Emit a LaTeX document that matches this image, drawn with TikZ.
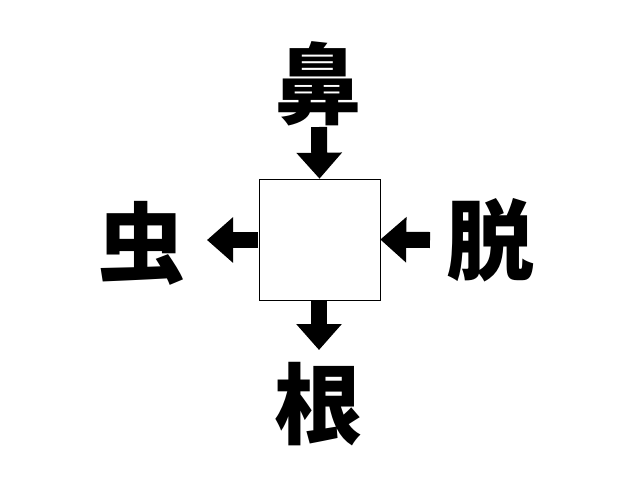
\documentclass[tikz,border=0pt]{standalone}
\usepackage{fontspec}
\newfontfamily\cjk{Noto Sans CJK JP}
\usetikzlibrary{arrows.meta}
\tikzset{
  kanji/.style={font=\cjk\bfseries\fontsize{88}{88}\selectfont, inner sep=0pt},
  blockarrow/.style={line width=16pt, -{Triangle[width=44pt,length=26pt]}}
}
\begin{document}
\begin{tikzpicture}[x=1pt,y=-1pt]
  \useasboundingbox (0,0) rectangle (640,480);
  \node[draw, line width=0.6pt, minimum size=121pt, inner sep=0pt] (box) at (319.5,239.5) {};
  \node[kanji] (top) at (318,84) {鼻};
  \node[kanji] (left) at (141,243) {虫};
  \node[kanji] (right) at (490,240) {脱};
  \node[kanji] (bottom) at (318,404) {根};
  \coordinate (ta) at (319,127);
  \coordinate (la) at (258,240);
  \coordinate (ra) at (430,240);
  \coordinate (ba) at (319,300);
  \draw[blockarrow] (ta) -- (box.north);
  \draw[blockarrow] (la) -- (207,240);
  \draw[blockarrow] (ra) -- (box.east);
  \draw[blockarrow] (ba) -- (319,350);
\end{tikzpicture}
\end{document}
